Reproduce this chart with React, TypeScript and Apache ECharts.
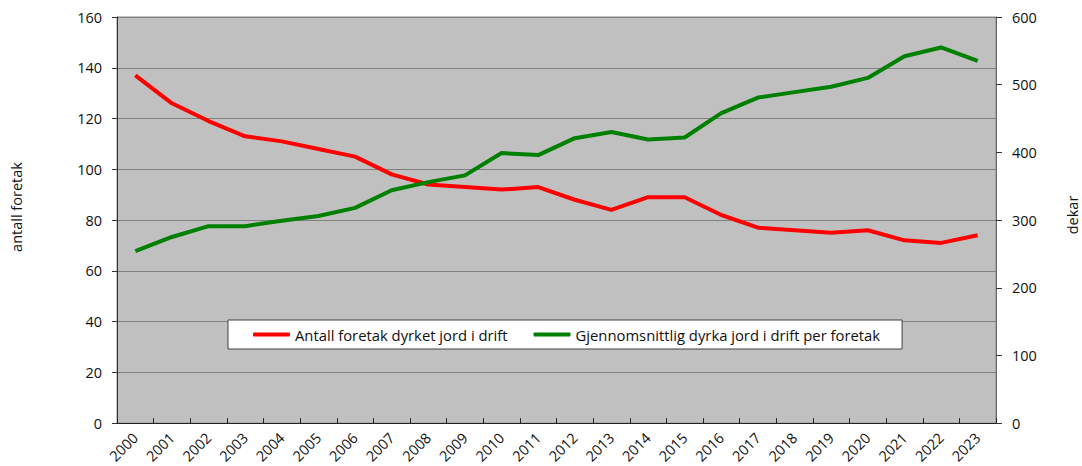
import React, { useEffect, useRef } from "react";
import * as echarts from "echarts";

const years = ["2000","2001","2002","2003","2004","2005","2006","2007","2008","2009","2010","2011","2012","2013","2014","2015","2016","2017","2018","2019","2020","2021","2022","2023"];
const antallForetak = [137, 126, 119, 113, 111, 108, 105, 98, 94, 93, 92, 93, 88, 84, 89, 89, 82, 77, 76, 75, 76, 72, 71, 74];
const dekarPerForetak = [254, 275, 291, 291, 299, 306, 318, 344, 356, 366, 399, 396, 421, 430, 419, 422, 458, 481, 489, 497, 510, 542, 555, 535];
const seriesNames = ["Antall foretak dyrket jord i drift", "Gjennomsnittlig dyrka jord i drift per foretak"];
const leftAxisName = "antall foretak";
const rightAxisName = "dekar";

const FONT = "'Open Sans', 'Noto Sans', sans-serif";

export default function App() {
  const ref = useRef<HTMLDivElement>(null);
  useEffect(() => {
    document.body.style.margin = "0";
    const chart = echarts.init(ref.current!, null, { renderer: "svg" });
    chart.setOption({
      animation: false,
      textStyle: { fontFamily: FONT },
      grid: {
        left: 117, right: 86, top: 17, bottom: 42,
        show: true, backgroundColor: "#c0c0c0", borderColor: "#8a8a8a", borderWidth: 1,
      },
      legend: {
        left: 228, top: 320,
        padding: [7, 22, 7, 25],
        itemGap: 26,
        itemWidth: 37, itemHeight: 4,
        icon: "roundRect",
        backgroundColor: "#ffffff",
        borderColor: "#404040", borderWidth: 1,
        textStyle: { fontFamily: FONT, fontSize: 14.8, color: "#111" },
        data: seriesNames,
      },
      xAxis: {
        type: "category",
        data: years,
        boundaryGap: true,
        axisLine: { lineStyle: { color: "#222", width: 1 } },
        axisTick: { show: true, interval: 0, length: 5, inside: true, lineStyle: { color: "#222" } },
        axisLabel: { interval: 0, rotate: 45, margin: 12, fontSize: 14.5, color: "#111", fontFamily: FONT },
        splitLine: { show: false },
      },
      yAxis: [
        {
          type: "value", min: 0, max: 160, interval: 20,
          axisLine: { show: true, lineStyle: { color: "#333", width: 1 } },
          axisTick: { show: true, length: 5, lineStyle: { color: "#333" } },
          axisLabel: { margin: 15, fontSize: 14.5, color: "#111", fontFamily: FONT },
          splitLine: { show: true, lineStyle: { color: "#808080", width: 1 } },
        },
        {
          type: "value", min: 0, max: 600, interval: 100, position: "right",
          axisLine: { show: true, lineStyle: { color: "#666", width: 1 } },
          axisTick: { show: true, length: 6, lineStyle: { color: "#333" } },
          axisLabel: { margin: 16, fontSize: 14.5, color: "#111", fontFamily: FONT },
          splitLine: { show: false },
        },
      ],
      graphic: [
        {
          type: "text", x: 16, y: 207, rotation: Math.PI / 2,
          style: { text: leftAxisName, fontSize: 14.5, fontFamily: FONT, fill: "#111", align: "center", verticalAlign: "middle" },
        },
        {
          type: "text", x: 1072, y: 215, rotation: Math.PI / 2,
          style: { text: rightAxisName, fontSize: 14.5, fontFamily: FONT, fill: "#111", align: "center", verticalAlign: "middle" },
        },
      ],
      series: [
        {
          name: seriesNames[0], type: "line", data: antallForetak, yAxisIndex: 0,
          symbol: "none", lineStyle: { color: "#ff0000", width: 4 }, itemStyle: { color: "#ff0000" },
        },
        {
          name: seriesNames[1], type: "line", data: dekarPerForetak, yAxisIndex: 1,
          symbol: "none", lineStyle: { color: "#008000", width: 4 }, itemStyle: { color: "#008000" },
        },
      ],
    });
    return () => chart.dispose();
  }, []);
  return <div ref={ref} style={{ width: 1082, height: 466 }} />;
}
